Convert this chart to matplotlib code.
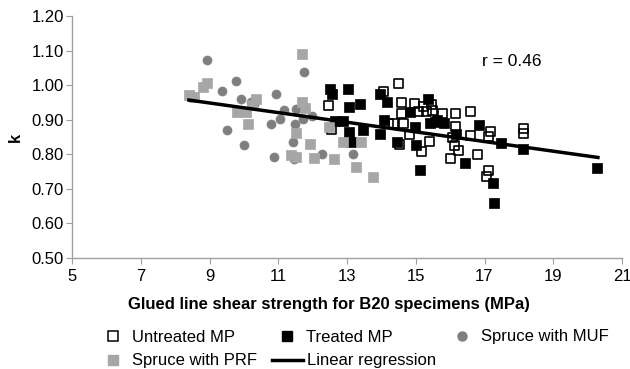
import matplotlib
matplotlib.use("Agg")
import matplotlib.pyplot as plt
import numpy as np
from matplotlib.lines import Line2D

plt.rcParams['font.family'] = ['Liberation Sans', 'DejaVu Sans']

# ---- data ----
untreated_x = [12.45, 14.51, 14.07, 14.58, 14.97, 15.23, 15.07, 15.31, 15.50, 14.58,
               14.34, 14.63, 14.22, 14.83, 14.53, 15.39, 15.18, 15.78, 16.16, 16.60,
               16.15, 16.59, 17.17, 17.13, 16.13, 16.25, 16.02, 16.81, 17.12, 17.06,
               18.14, 18.14, 16.08, 15.46, 12.55]
untreated_y = [0.941, 1.005, 0.981, 0.949, 0.947, 0.938, 0.923, 0.923, 0.928, 0.919,
               0.888, 0.888, 0.890, 0.856, 0.827, 0.836, 0.809, 0.919, 0.917, 0.925,
               0.880, 0.855, 0.865, 0.851, 0.824, 0.810, 0.788, 0.798, 0.752, 0.737,
               0.875, 0.861, 0.849, 0.943, 0.872]

treated_x = [12.50, 12.55, 13.03, 13.05, 13.37, 13.95, 14.15, 12.65, 12.89, 13.05,
             13.13, 13.47, 13.95, 14.08, 14.44, 15.02, 14.99, 14.83, 15.36, 15.41,
             15.62, 15.82, 15.12, 16.18, 16.84, 17.47, 18.12, 16.42, 17.25, 17.28,
             20.28, 15.55]
treated_y = [0.988, 0.974, 0.988, 0.938, 0.945, 0.974, 0.952, 0.896, 0.896, 0.865,
             0.836, 0.870, 0.859, 0.899, 0.836, 0.827, 0.880, 0.923, 0.959, 0.890,
             0.899, 0.890, 0.754, 0.859, 0.885, 0.834, 0.814, 0.774, 0.718, 0.658,
             0.759, 0.894]

muf_x = [8.92, 9.36, 9.77, 9.92, 10.21, 9.51, 10.01, 10.93, 11.75, 10.88,
         11.46, 11.43, 11.49, 10.79, 11.05, 11.17, 11.51, 11.72, 11.99, 12.26,
         13.18, 10.30]
muf_y = [1.073, 0.984, 1.012, 0.960, 0.952, 0.870, 0.826, 0.974, 1.038, 0.792,
         0.785, 0.835, 0.888, 0.888, 0.901, 0.928, 0.931, 0.903, 0.911, 0.801,
         0.801, 0.945]

prf_x = [8.40, 8.56, 8.82, 8.93, 9.79, 10.07, 10.13, 10.36, 10.24, 11.69,
         11.69, 11.77, 11.51, 11.92, 11.36, 11.53, 12.04, 12.48, 12.89, 13.42,
         12.63, 13.25, 13.76]
prf_y = [0.971, 0.967, 0.994, 1.005, 0.923, 0.921, 0.888, 0.959, 0.943, 1.090,
         0.952, 0.933, 0.861, 0.829, 0.797, 0.793, 0.788, 0.878, 0.836, 0.836,
         0.786, 0.762, 0.733]

reg_slope = -0.01395
reg_intercept = 1.074
reg_range = [8.40, 20.30]
r_text = "r = 0.46"

x_ticks = [5, 7, 9, 11, 13, 15, 17, 19, 21]
y_ticks = [0.50, 0.60, 0.70, 0.80, 0.90, 1.00, 1.10, 1.20]

# ---- plot ----
fig = plt.figure(figsize=(6.30, 3.69), dpi=100)
ax = fig.add_axes([72/630, 1-258/369, 550/630, 242/369])

ms = 42
ax.scatter(untreated_x, untreated_y, marker='s', s=ms, facecolors='none',
           edgecolors='black', linewidths=1.2, zorder=3)
ax.scatter(treated_x, treated_y, marker='s', s=ms, facecolors='black',
           edgecolors='black', linewidths=0.5, zorder=3)
ax.scatter(muf_x, muf_y, marker='o', s=ms, facecolors='#7f7f7f',
           edgecolors='#7f7f7f', linewidths=0.5, zorder=3)
ax.scatter(prf_x, prf_y, marker='s', s=ms, facecolors='#a6a6a6',
           edgecolors='#a6a6a6', linewidths=0.5, zorder=3)
rx = np.array(reg_range)
ax.plot(rx, reg_intercept + reg_slope * rx, color='black', lw=2.5, zorder=4)

ax.set_xlim(5, 21)
ax.set_ylim(0.5, 1.2)
ax.set_xticks(x_ticks)
ax.set_yticks(y_ticks)
ax.set_xticklabels([str(v) for v in x_ticks])
ax.set_yticklabels([f"{v:.2f}" for v in y_ticks])
for s in ['top', 'right']:
    ax.spines[s].set_visible(False)
for s in ['left', 'bottom']:
    ax.spines[s].set_color('#a0a0a0')
    ax.spines[s].set_linewidth(1.0)
ax.tick_params(axis='both', colors='#a0a0a0', labelcolor='black', labelsize=12,
               length=4, direction='out')
ax.tick_params(axis='x', pad=4)
ax.tick_params(axis='y', pad=2)

ax.set_ylabel("k", fontsize=12, fontweight='bold', labelpad=6)
fig.text(328.5/630, 1-304/369, "Glued line shear strength for B20 specimens (MPa)",
         fontsize=12, fontweight='bold', ha='center', va='center')

ax.text(17.79, 1.067, r_text, fontsize=12.5, ha='center', va='center')

# legend entries positioned like the reference
FS = 12
def leg(handle, label, x, y, hl, pad):
    fig.legend([handle], [label], loc='center left',
               bbox_to_anchor=(x/630, 1-y/369), frameon=False,
               fontsize=FS, handlelength=hl, handletextpad=pad,
               borderpad=0, borderaxespad=0)

h_un = Line2D([], [], marker='s', ls='none', markersize=6.5, markerfacecolor='white',
              markeredgecolor='black', markeredgewidth=1.1)
h_tr = Line2D([], [], marker='s', ls='none', markersize=6.5, markerfacecolor='black',
              markeredgecolor='black')
h_muf = Line2D([], [], marker='o', ls='none', markersize=6.5, markerfacecolor='#7f7f7f',
               markeredgecolor='#7f7f7f')
h_prf = Line2D([], [], marker='s', ls='none', markersize=6.5, markerfacecolor='#a6a6a6',
               markeredgecolor='#a6a6a6')
h_lin = Line2D([], [], color='black', lw=2.5)

leg(h_un, "Untreated MP", 104.7, 337, 1.0, 0.64)
leg(h_tr, "Treated MP", 278.7, 337, 1.0, 0.64)
leg(h_muf, "Spruce with MUF", 453.7, 337, 1.0, 0.64)
leg(h_prf, "Spruce with PRF", 104.7, 361, 1.0, 0.64)
leg(h_lin, "Linear regression", 272, 361, 1.86, 0.24)

fig.savefig("out.png", dpi=100)
